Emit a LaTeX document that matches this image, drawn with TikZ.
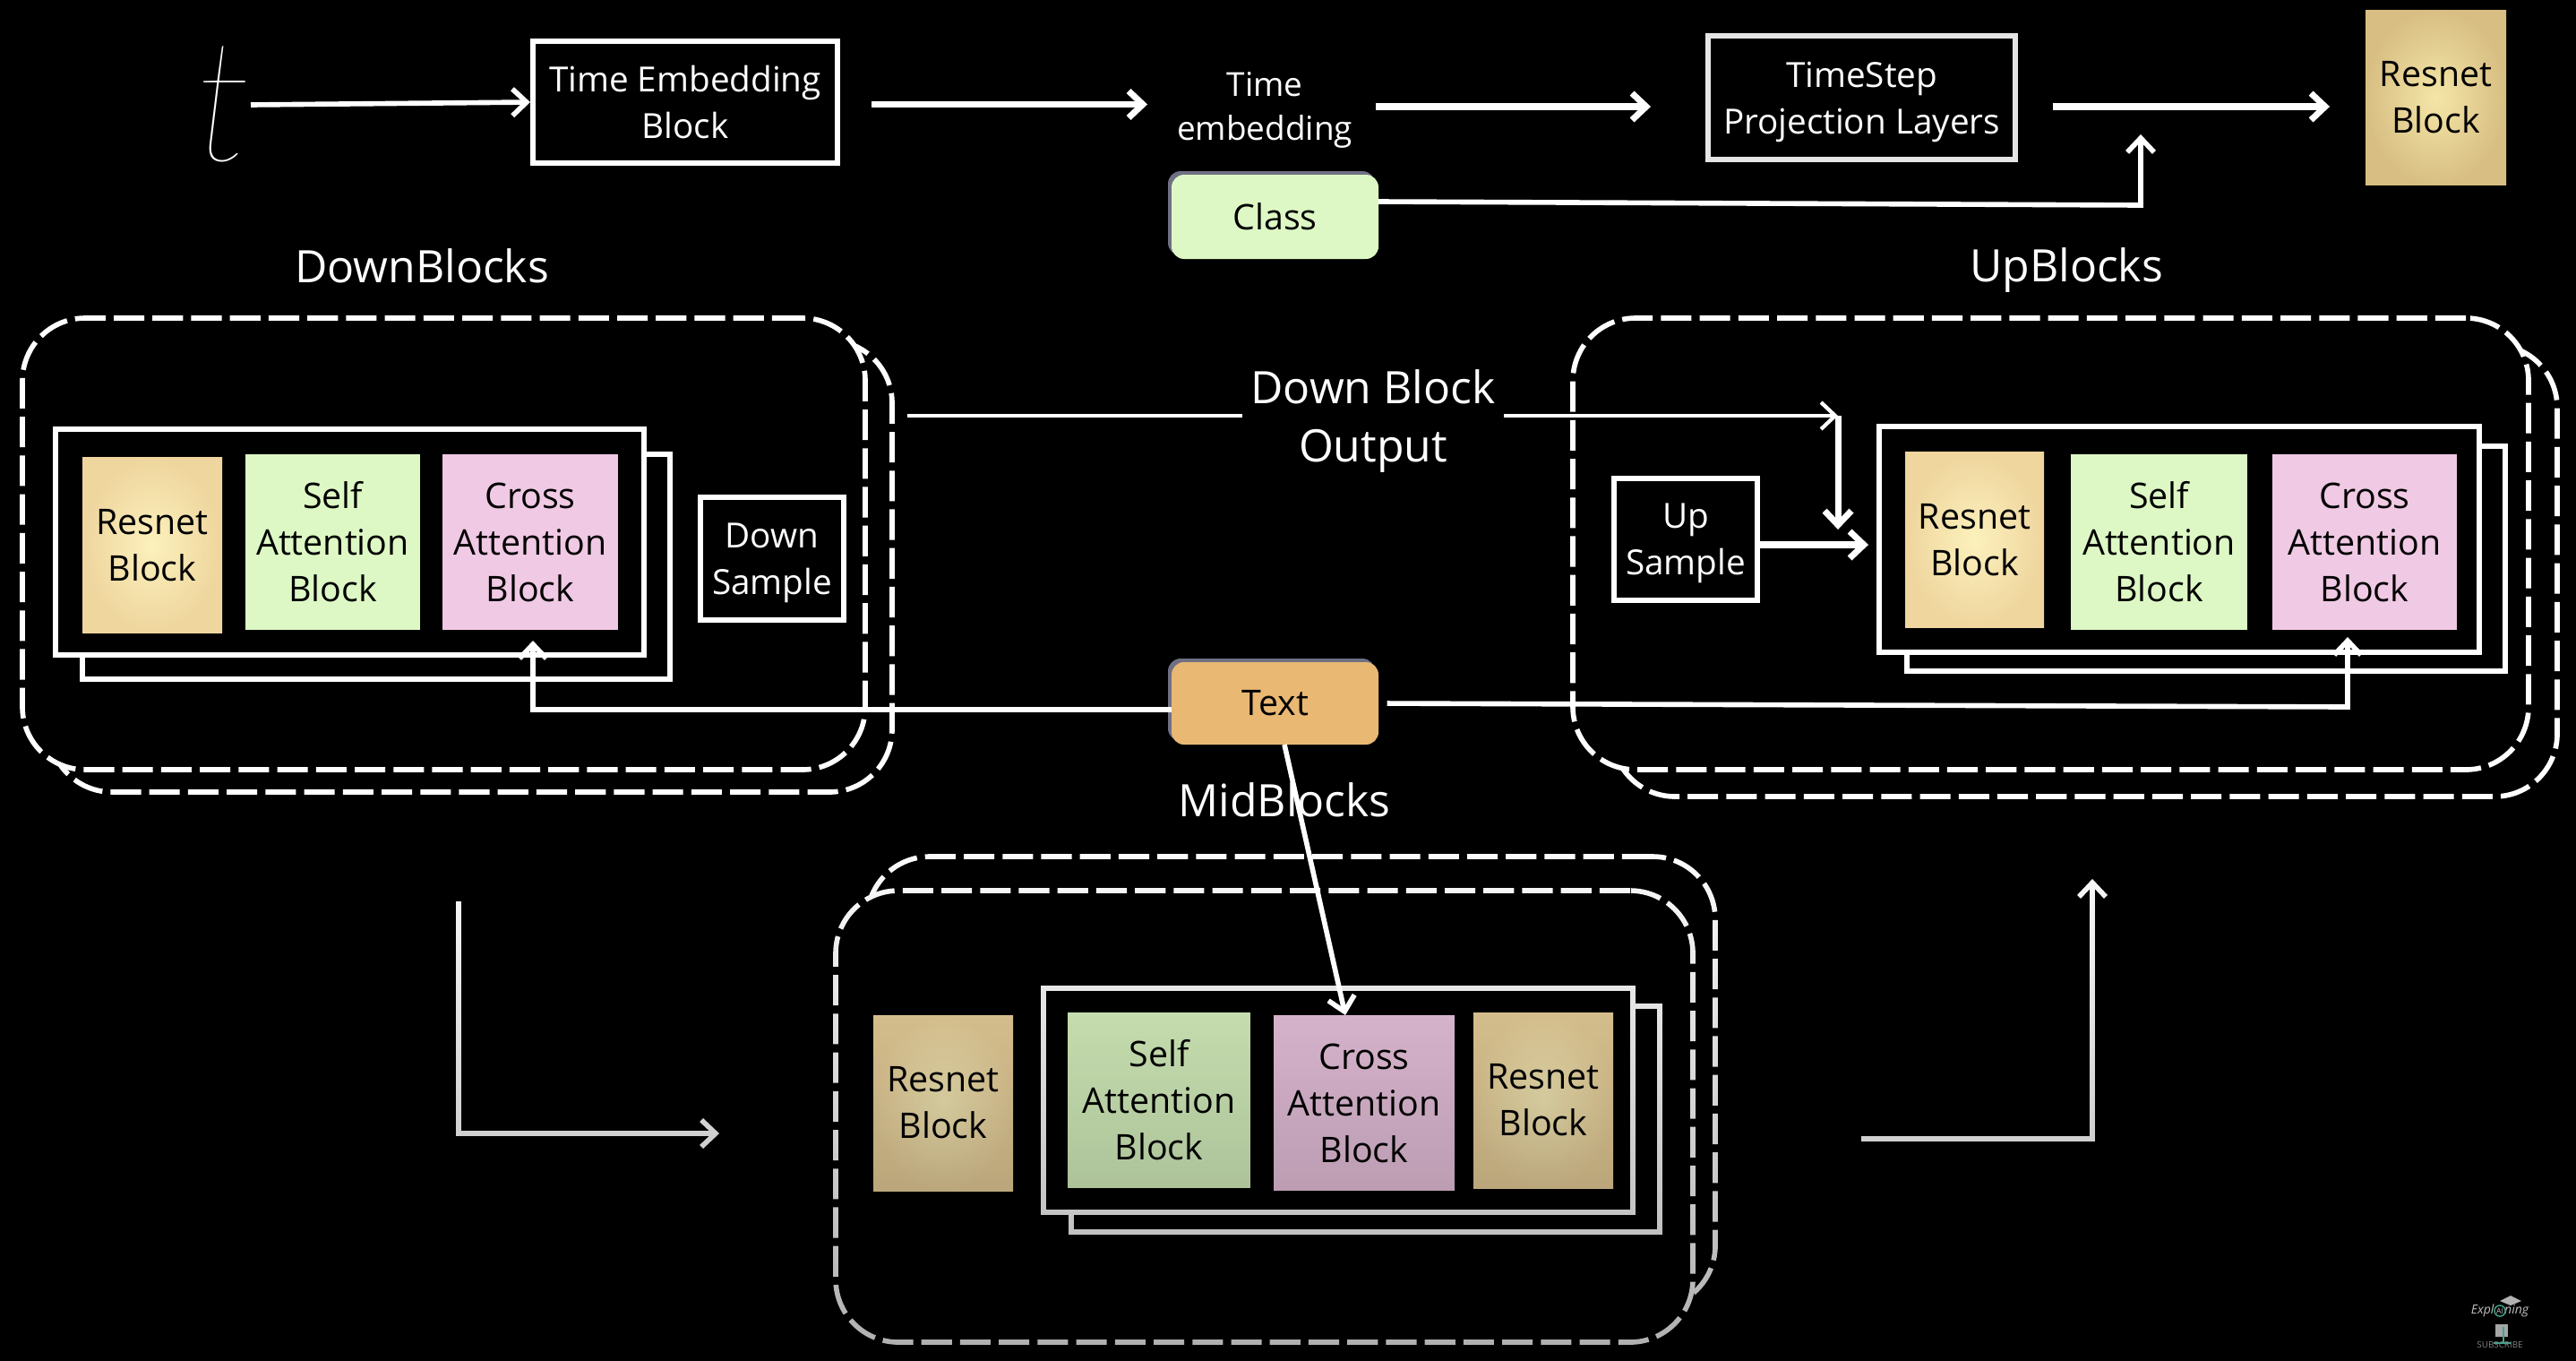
\documentclass[tikz,border=0pt]{standalone}
\usepackage{fontspec}
\setmainfont{Open Sans}
\newfontface\thinface{Lato Hairline Italic}
\usetikzlibrary{arrows.meta,shadows,fadings}
\definecolor{greenbox}{HTML}{DDF8C4}
\definecolor{pinkbox}{HTML}{F0C9E4}
\definecolor{orangebox}{HTML}{E9B873}
\definecolor{resin}{HTML}{FCF1BC}
\definecolor{resout}{HTML}{EFD59E}
\definecolor{topin}{HTML}{F4E6A8}
\definecolor{topout}{HTML}{D8BE82}
\definecolor{tealmark}{HTML}{3FA58F}
\tikzfading[name=fadelow, top color=transparent!100, bottom color=transparent!68]
\tikzset{
  label/.style={text=white, align=center, inner sep=0pt, font=\fontsize{14.2}{18.7}\selectfont},
  small/.style={text=white, align=center, inner sep=0pt, font=\fontsize{10.5}{14}\selectfont},
  wire/.style={draw=white, line width=2pt, -{Straight Barb[length=4.5pt,width=8.5pt]}},
  thinwire/.style={wire, line width=1.6pt},
  plain/.style={draw=white, line width=1.2pt},
  block/.style={draw=white, fill=black, line width=1.8pt, text=white, align=center, inner sep=0pt, font=\fontsize{11}{14.8}\selectfont},
  frame/.style={draw=white, fill=black, line width=1.8pt, inner sep=0pt},
  dashbox/.style={draw=white, fill=black, line width=1.6pt, inner sep=0pt, rounded corners=0.7cm,
    dash pattern=on 9.7pt off 2.6pt},
  filled/.style={text=black, align=center, inner sep=0pt, minimum height=1.96cm, font=\fontsize{11.2}{14.8}\selectfont},
  resnet/.style={filled, minimum width=1.56cm, inner color=resin, outer color=resout},
  selfatt/.style={filled, fill=greenbox},
  crossatt/.style={filled, fill=pinkbox},
  tag/.style={text=black, align=center, inner sep=0pt, rounded corners=0.14cm, minimum width=2.31cm,
    font=\fontsize{11.2}{14.8}\selectfont, general shadow={fill=black!35!blue!12!gray, shadow xshift=-0.04cm, shadow yshift=0.04cm}},
}
\begin{document}
\begin{tikzpicture}
  \useasboundingbox (0,0) rectangle (28.76,-15.18);
  \fill[black] (-0.1,0.1) rectangle (28.86,-15.28);

  \node[text=white, inner sep=0pt, font=\fontsize{54}{54}\thinface] (tvar) at (2.5,-1.16) {t};
  \node[block, minimum width=3.40cm, minimum height=1.36cm] (embed) at (7.65,-1.14) {Time Embedding\\Block};
  \node[small] (timeemb) at (14.12,-1.225) {Time\\embedding};
  \node[block, draw=white!90!black, minimum width=3.43cm, minimum height=1.38cm] (proj) at (20.785,-1.09) {TimeStep\\\smash{Projection Layers}};
  \node[filled, minimum width=1.57cm, minimum height=1.955cm, inner color=topin, outer color=topout] (restop) at (27.195,-1.09) {Resnet\\Block};
  \node[tag, fill=greenbox, minimum height=0.94cm] (classn) at (14.235,-2.42) {Class};
  \coordinate (tOut) at (2.80,-1.17);
  \coordinate (embIn) at (5.92,-1.14);
  \coordinate (embOut) at (9.73,-1.165);
  \coordinate (timeIn) at (12.81,-1.165);
  \coordinate (timeOut) at (15.36,-1.19);
  \coordinate (projIn) at (18.43,-1.19);
  \coordinate (projOut) at (22.92,-1.19);
  \coordinate (resIn) at (26.01,-1.19);
  \coordinate (classOut) at (15.39,-2.25);
  \coordinate (classTurn) at (23.90,-2.29);
  \coordinate (classEnd) at (23.90,-1.50);
  \draw[thinwire] (tOut) -- (embIn);
  \draw[wire] (embOut) -- (timeIn);
  \draw[wire] (timeOut) -- (projIn);
  \draw[wire] (projOut) -- (resIn);
  \draw[thinwire] (classOut) -- (classTurn) -- (classEnd);

  \node[label] (downlab) at (4.71,-2.97) {DownBlocks};
  \node[label] (uplab) at (23.07,-3.02) {UpBlocks};

  \node[dashbox, minimum width=9.41cm, minimum height=5.04cm] (downB) at (5.255,-6.32) {};
  \node[dashbox, minimum width=9.41cm, minimum height=5.04cm] (downA) at (4.955,-6.07) {};
  \node[frame, minimum width=6.56cm, minimum height=2.51cm] (dframeB) at (4.20,-6.325) {};
  \node[frame, minimum width=6.57cm, minimum height=2.52cm] (dframeA) at (3.905,-6.05) {};
  \node[resnet] (dres) at (1.70,-6.085) {Resnet\\Block};
  \node[selfatt, minimum width=1.95cm] (dself) at (3.715,-6.05) {Self\\Attention\\Block};
  \node[crossatt, minimum width=1.96cm] (dcross) at (5.92,-6.05) {Cross\\Attention\\Block};
  \node[block, minimum width=1.60cm, minimum height=1.37cm] (dsample) at (8.62,-6.235) {Down\\\smash{Sample}};

  \node[dashbox, minimum width=10.55cm, minimum height=5.04cm] (upB) at (23.275,-6.37) {};
  \node[dashbox, minimum width=10.67cm, minimum height=5.04cm] (upA) at (22.895,-6.07) {};
  \node[frame, minimum width=6.68cm, minimum height=2.51cm] (uframeB) at (24.63,-6.235) {};
  \node[frame, minimum width=6.705cm, minimum height=2.52cm] (uframeA) at (24.33,-6.02) {};
  \node[resnet, minimum width=1.55cm] (ures) at (22.045,-6.025) {Resnet\\Block};
  \node[selfatt, minimum width=1.97cm] (uself) at (24.105,-6.05) {Self\\Attention\\Block};
  \node[crossatt, minimum width=2.06cm] (ucross) at (26.40,-6.05) {Cross\\Attention\\Block};
  \node[block, minimum width=1.60cm, minimum height=1.36cm] (usample) at (18.82,-6.02) {Up\\\smash{Sample}};

  \node[dashbox, minimum width=9.47cm, minimum height=5.04cm] (midB) at (14.415,-12.08) {};
  \node[dashbox, minimum width=9.57cm, minimum height=5.04cm] (midA) at (14.115,-12.46) {};
  \node[frame, minimum width=6.57cm, minimum height=2.52cm] (mframeB) at (15.245,-12.49) {};
  \node[frame, minimum width=6.58cm, minimum height=2.50cm] (mframeA) at (14.94,-12.28) {};
  \node[resnet] (mresA) at (10.53,-12.31) {Resnet\\Block};
  \node[selfatt, minimum width=2.04cm] (mself) at (12.94,-12.28) {Self\\Attention\\Block};
  \node[crossatt, minimum width=2.02cm] (mcross) at (15.23,-12.31) {Cross\\Attention\\Block};
  \node[resnet] (mresB) at (17.23,-12.28) {Resnet\\Block};

  \node[label, minimum width=2.91cm] (output) at (15.33,-4.64) {Down Block\\\smash{Output}};
  \node[tag, fill=orangebox, minimum height=0.92cm] (textn) at (14.235,-7.85) {Text};
  \coordinate (outStart) at (10.13,-4.64);
  \coordinate (outEnd) at (20.52,-4.64);
  \coordinate (outDown) at (20.52,-5.91);
  \coordinate (upIn) at (20.86,-6.08);
  \coordinate (usOut) at (19.62,-6.08);
  \coordinate (textOut) at (13.08,-7.92);
  \coordinate (dcrossIn) at (5.95,-7.15);
  \coordinate (ucrossIn) at (26.21,-7.11);
  \coordinate (upTurn) at (26.21,-7.89);
  \draw[plain] (outStart) -- (output);
  \draw[wire, line width=1.2pt] (output) -- (outEnd);
  \draw[wire] (outEnd) -- (outDown);
  \draw[wire] (usOut) -- (upIn);
  \draw[thinwire] (textOut) -| (dcrossIn);
  \draw[thinwire, shorten <=0.09cm] (textn.east) -- (upTurn) -- (ucrossIn);

  \coordinate (lTop) at (5.12,-10.06);
  \coordinate (lCorner) at (5.12,-12.65);
  \coordinate (lEnd) at (8.03,-12.65);
  \coordinate (rStart) at (20.78,-12.71);
  \coordinate (rCorner) at (23.36,-12.71);
  \coordinate (rEnd) at (23.36,-9.81);
  \draw[thinwire] (lTop) -- (lCorner) -- (lEnd);
  \draw[thinwire] (rStart) -- (rCorner) -- (rEnd);

  \fill[black, path fading=fadelow] (0,-9.3) rectangle (28.76,-15.18);

  \node[label] (midlab) at (14.34,-8.93) {MidBlocks};
  \coordinate (textDown) at (14.34,-8.31);
  \coordinate (mcrossIn) at (15.02,-11.33);
  \draw[thinwire] (textDown) -- (mcrossIn);

  % channel mark
  \fill[black!30] (27.91,-14.52) -- (28.03,-14.46) -- (28.15,-14.52) -- (28.03,-14.57) -- cycle;
  \fill[black!35] (27.86,-14.78) rectangle (28.0,-14.92);
  \draw[tealmark, line width=0.5pt] (27.95,-14.81) -- (27.95,-14.98);
  \fill[tealmark] (27.84,-14.98) rectangle (28.03,-15.00);
  \node[text=black!25, inner sep=0pt, font=\fontsize{4}{4}\selectfont\itshape] (markname) at (27.91,-14.63) {Expl\phantom{AI}ning};
  \node[draw=tealmark, line width=0.4pt, circle, text=black!25, inner sep=0.2pt, font=\fontsize{2.5}{2.5}\selectfont] (markai) at (27.91,-14.63) {AI};
  \node[text=black!50, inner sep=0pt, font=\fontsize{2.8}{3}\selectfont] (markbtn) at (27.91,-15.01) {SUBSCRIBE};
\end{tikzpicture}
\end{document}
